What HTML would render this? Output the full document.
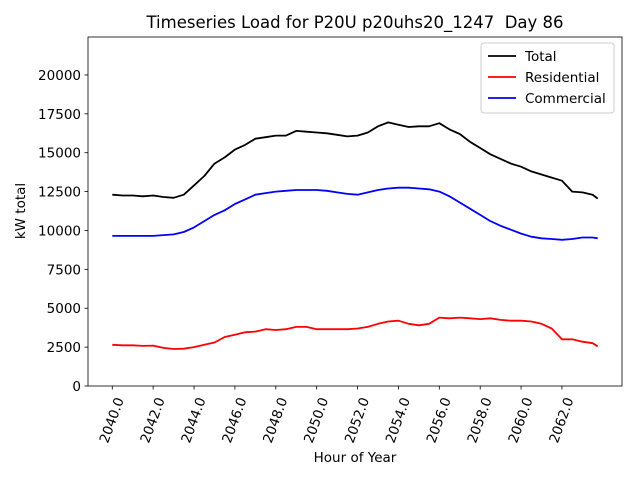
<!DOCTYPE html>
<html><head><meta charset="utf-8"><style>
body{margin:0;background:#fff;font-family:"DejaVu Sans","Liberation Sans",sans-serif}
text{white-space:pre}
</style></head><body>
<svg id="chart" width="640" height="480" xmlns="http://www.w3.org/2000/svg" style="font-family:'DejaVu Sans','Liberation Sans',sans-serif"></svg>
<script>
const hours=[2040,2040.5,2041,2041.5,2042,2042.5,2043,2043.5,2044,2044.5,2045,2045.5,2046,2046.5,2047,2047.5,2048,2048.5,2049,2049.5,2050,2050.5,2051,2051.5,2052,2052.5,2053,2053.5,2054,2054.5,2055,2055.5,2056,2056.5,2057,2057.5,2058,2058.5,2059,2059.5,2060,2060.5,2061,2061.5,2062,2062.5,2063,2063.5,2063.75];
const total=[12300,12250,12250,12200,12250,12150,12100,12300,12900,13500,14300,14700,15200,15500,15900,16000,16100,16100,16400,16350,16300,16250,16150,16050,16100,16300,16700,16950,16800,16650,16700,16700,16900,16500,16200,15700,15300,14900,14600,14300,14100,13800,13600,13400,13200,12500,12450,12300,12050];
const residential=[2650,2620,2620,2580,2600,2450,2380,2400,2500,2650,2800,3150,3300,3450,3500,3650,3600,3650,3800,3800,3650,3650,3650,3650,3700,3800,4000,4150,4200,4000,3900,4000,4400,4350,4400,4350,4300,4350,4250,4200,4200,4150,4000,3700,3000,3000,2850,2750,2550];
const commercial=[9650,9650,9650,9650,9650,9700,9750,9900,10200,10600,11000,11300,11700,12000,12300,12400,12500,12550,12600,12600,12600,12550,12450,12350,12300,12450,12600,12700,12750,12750,12700,12650,12500,12200,11800,11400,11000,10600,10300,10050,9800,9600,9500,9450,9400,9450,9550,9550,9500];
const xTicks=[2040,2042,2044,2046,2048,2050,2052,2054,2056,2058,2060,2062];
const yTicks=[0,2500,5000,7500,10000,12500,15000,17500,20000];
const L=88,R=622,T=37,B=386;
const xmin=2038.8125,xmax=2064.9375,ymin=0,ymax=22440;
const sx=v=>L+(v-xmin)/(xmax-xmin)*(R-L);
const sy=v=>B-(v-ymin)/(ymax-ymin)*(B-T);
const svg=document.getElementById('chart');
const NS='http://www.w3.org/2000/svg';
function mk(t,a,txt){const e=document.createElementNS(NS,t);for(const k in a)e.setAttribute(k,a[k]);if(txt!==undefined)e.textContent=txt;svg.appendChild(e);return e;}
let e=mk('rect',{x:L,y:T,width:R-L,height:B-T,fill:'#fff',stroke:'#000','stroke-width':0.8});


yTicks.forEach(v=>{
 let t=mk('line',{x1:L-3.5,x2:L,y1:sy(v),y2:sy(v),stroke:'#000','stroke-width':0.8});
 
 
 let l=mk('text',{x:L-7,y:sy(v)+5,'text-anchor':'end','font-size':13.5},String(v));
 
 
});
xTicks.forEach(v=>{
 let t=mk('line',{x1:sx(v),x2:sx(v),y1:B,y2:B+3.5,stroke:'#000','stroke-width':0.8});
 
 
 let x=sx(v)-1,y=B+34;
 let l=mk('text',{x:x,y:y,'text-anchor':'middle','font-size':13.5,transform:`rotate(-70 ${x} ${y}) translate(0 5)`},v.toFixed(1));
 
 
});
function line(data,color,name){
 const d=data.map((v,i)=>(i?'L':'M')+sx(hours[i]).toFixed(1)+' '+sy(v).toFixed(1)).join(' ');
 let p=mk('path',{d:d,fill:'none',stroke:color,'stroke-width':1.8,'stroke-linejoin':'round'});
 
 
}
line(total,'#000','total-line');
line(residential,'#f00','residential-line');
line(commercial,'#00f','commercial-line');
e=mk('text',{x:355,y:28,'text-anchor':'middle','font-size':16.5},'Timeseries Load for P20U p20uhs20_1247  Day 86');


e=mk('text',{x:355,y:462,'text-anchor':'middle','font-size':13.5},'Hour of Year');


e=mk('text',{x:25,y:211,'text-anchor':'middle','font-size':13.5,transform:'rotate(-90 25 211)'},'kW total');


e=mk('rect',{x:481,y:43,width:133,height:70,rx:3,fill:'#fff',stroke:'#ccc','stroke-width':1});


[['Total','#000',56],['Residential','#f00',77],['Commercial','#00f',98]].forEach(([n,c,y])=>{
 let a=mk('line',{x1:488,x2:516,y1:y,y2:y,stroke:c,'stroke-width':1.8});
 
 
 let b=mk('text',{x:525,y:y+5,'font-size':13.5},n);
 
 
});
</script>
</body></html>
